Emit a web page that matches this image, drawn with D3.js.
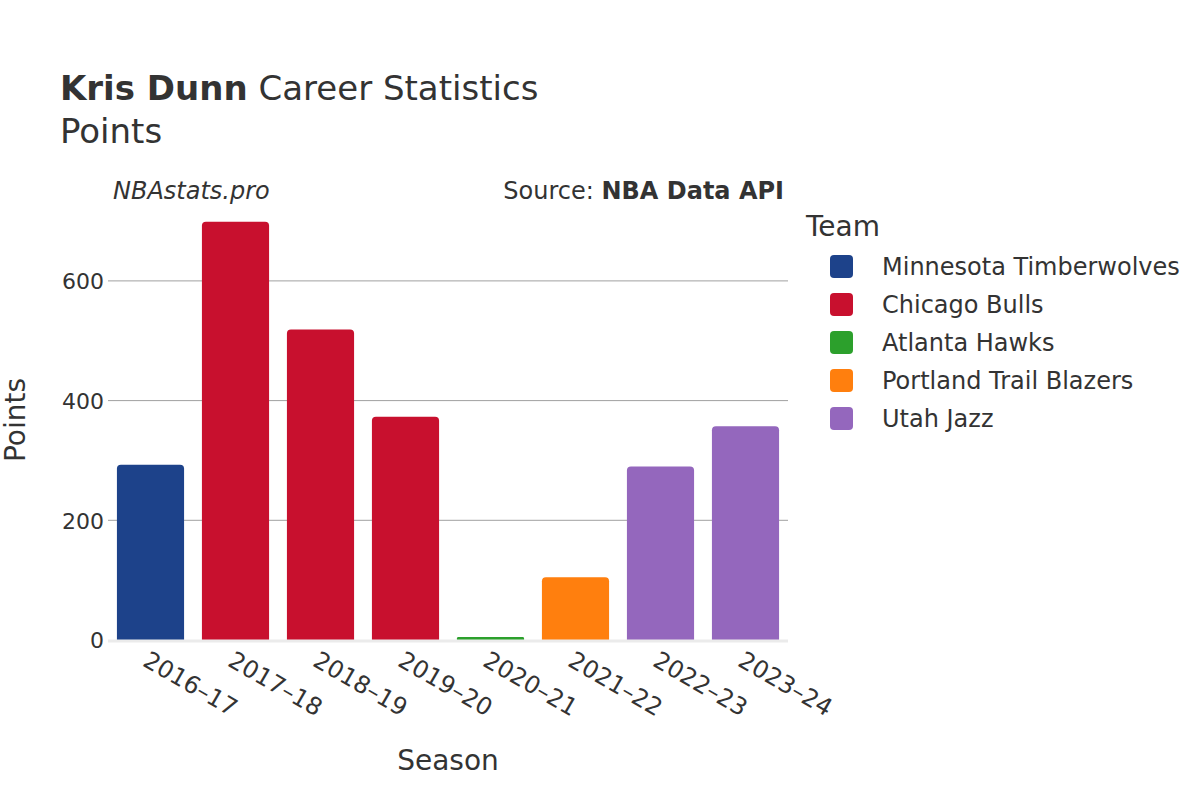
<!DOCTYPE html>
<html><head><meta charset="utf-8">
<script src="https://cdn.jsdelivr.net/npm/d3@7"></script>
<style>body{margin:0;background:#fff;} text{font-family:"DejaVu Sans",sans-serif;fill:#333;}</style>
</head><body>
<svg id="c" width="1200" height="800"></svg>
<script>
const seasons = ["2016–17","2017–18","2018–19","2019–20","2020–21","2021–22","2022–23","2023–24"];
const points = [293, 699, 519, 373, 5, 105, 290, 357];
const teams = ["Minnesota Timberwolves","Chicago Bulls","Chicago Bulls","Chicago Bulls","Atlanta Hawks","Portland Trail Blazers","Utah Jazz","Utah Jazz"];
const legendTeams = ["Minnesota Timberwolves","Chicago Bulls","Atlanta Hawks","Portland Trail Blazers","Utah Jazz"];
const teamColors = ["#1d428a","#c8102e","#2ca02c","#ff7f0e","#9467bd"];
const yTicks = [0,200,400,600];

const svg = d3.select("#c");
const L = 108, R = 788, T = 160, B = 640;
const x = d3.scaleBand().domain(seasons).range([L, R]).paddingInner(0.21).paddingOuter(0.105);
const y = d3.scaleLinear().domain([0, 802]).range([B, T]);
const color = d3.scaleOrdinal().domain(legendTeams).range(teamColors);

// grid
svg.append("g").selectAll("line").data(yTicks.filter(d=>d>0)).join("line")
  .attr("x1", L).attr("x2", R).attr("y1", d=>y(d)).attr("y2", d=>y(d))
  .attr("stroke", "#a0a0a0").attr("stroke-width", 1);

// y axis
const yAxis = d3.axisLeft(y).tickValues(yTicks).tickSize(0).tickPadding(4);
const yg = svg.append("g").attr("transform", `translate(${L},0)`).call(yAxis);
yg.select(".domain").remove();
yg.selectAll(".tick line").remove();
yg.selectAll(".tick text").style("font-size", "22px").attr("fill", "#333").attr("dy", "0.35em");

// bars
const r = 4;
svg.append("g").selectAll("path").data(seasons).join("path")
  .attr("d", (s,i) => {
    const x0 = x(s), w = x.bandwidth(), y0 = y(points[i]), h = B - y0;
    const rr = Math.min(r, h/2, w/2);
    return `M${x0},${B}V${y0+rr}Q${x0},${y0} ${x0+rr},${y0}H${x0+w-rr}Q${x0+w},${y0} ${x0+w},${y0+rr}V${B}Z`;
  })
  .attr("fill", (s,i) => color(teams[i]));

// zero line
svg.append("line").attr("x1", L).attr("x2", R).attr("y1", B+1).attr("y2", B+1)
  .attr("stroke", "#ebebeb").attr("stroke-width", 3);

// x axis labels
const xg = svg.append("g").attr("transform", `translate(0,${B})`).call(d3.axisBottom(x).tickSize(0).tickPadding(0));
xg.select(".domain").remove();
xg.selectAll(".tick text")
  .style("font-size", "24px").attr("fill", "#333")
  .attr("text-anchor", "start").attr("dy", null).attr("y", 0)
  .attr("transform", "translate(-9,25) rotate(30)");

// titles
const t = svg.append("text").attr("x", 60).attr("y", 100).style("font-size", "34px");
t.append("tspan").attr("font-weight", "bold").text("Kris Dunn");
t.append("tspan").text(" Career Statistics");
svg.append("text").attr("x", 60).attr("y", 143).style("font-size", "34px").text("Points");

svg.append("text").attr("x", 113).attr("y", 199).style("font-size", "24px").attr("font-style", "italic").text("NBAstats.pro");
const s = svg.append("text").attr("x", 784).attr("y", 199).attr("text-anchor", "end").style("font-size", "24px");
s.append("tspan").text("Source: ");
s.append("tspan").attr("font-weight", "bold").text("NBA Data API");

svg.append("text").attr("transform", "translate(25,420) rotate(-90)").attr("text-anchor", "middle").style("font-size", "28px").text("Points");
svg.append("text").attr("x", 448).attr("y", 770).attr("text-anchor", "middle").style("font-size", "28px").text("Season");

// legend
svg.append("text").attr("x", 806).attr("y", 236).style("font-size", "28px").text("Team");
const lg = svg.append("g").selectAll("g").data(legendTeams).join("g")
  .attr("transform", (d,i) => `translate(830,${266 + i*38})`);
lg.append("rect").attr("x", 0).attr("y", -11).attr("width", 23).attr("height", 23).attr("rx", 4).attr("fill", d=>color(d));
lg.append("text").attr("x", 52).attr("y", 9).style("font-size", "24px").text(d=>d);
</script>
</body></html>
